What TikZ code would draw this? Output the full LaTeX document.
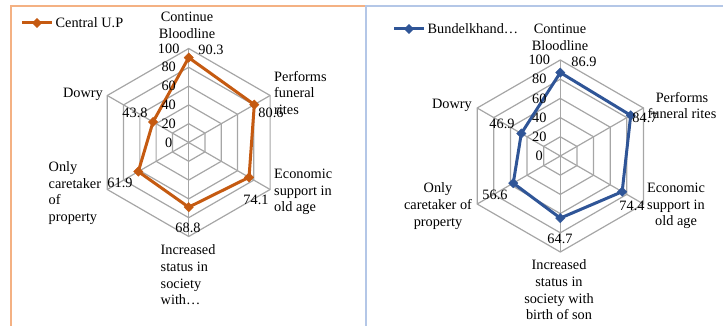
\documentclass[tikz,border=0pt]{standalone}
\usepackage{fontspec}
\setmainfont{Liberation Serif}
\usetikzlibrary{shapes.geometric}
\definecolor{orng}{HTML}{C55A11}
\definecolor{blu}{HTML}{2F5597}
\definecolor{gridc}{HTML}{A6A6A6}
\definecolor{orframe}{HTML}{F4B183}
\definecolor{blframe}{HTML}{B4C7E7}
\tikzset{
  gridline/.style={draw=gridc, line width=1.2pt},
  serline/.style={line width=3pt, line join=round},
  mk/.style={diamond, fill=#1, draw=#1, inner sep=0pt, minimum size=9.5pt},
  lbl/.style={inner sep=0pt, font=\fontsize{14.3}{16.7}\selectfont},
}
\begin{document}
\begin{tikzpicture}[x=1pt,y=-1pt]
\useasboundingbox (0,0) rectangle (723,326);
% frames
\draw[orframe, line width=2pt] (11,326) -- (11,6) -- (366,6);
\draw[blframe, line width=2pt] (366,326) -- (366,6) -- (723,6);

% ================= LEFT CHART =================
\begin{scope}[shift={(188.7,142.5)}]
  \foreach \r in {1,...,5}{
    \draw[gridline] (-90:18.8*\r) \foreach \a in {-30,30,90,150,210}{ -- (\a:18.8*\r) } -- cycle;
  }
  \foreach \a in {-90,-30,30,90,150,210}{
    \draw[gridline] (0,0) -- (\a:94);
  }
  \foreach \v/\i [count=\k from 0] in {90.3/1,80.6/2,74.1/3,68.8/4,61.9/5,43.8/6}{
    \coordinate (l\i) at ({-90+60*\k}:{0.94*\v});
  }
  \draw[orng, serline] (l1) -- (l2) -- (l3) -- (l4) -- (l5) -- (l6) -- cycle;
  \foreach \i in {1,...,6}{ \node[mk=orng] (lm\i) at (l\i) {}; }
  \foreach \t [count=\k from 0] in {0,20,40,60,80,100}{
    \node[lbl] (lt\k) at (-20,-18.8*\k) {\t};
  }
\end{scope}
% axis labels left
\node[lbl, align=center] (lc1) at (187,25.5) {Continue\\Bloodline};
\node[lbl, align=left, anchor=west] (lc2) at (274,93) {Performs\\funeral\\rites};
\node[lbl, align=left, anchor=west] (lc3) at (274,192) {Economic\\support in\\old age};
\node[lbl, align=left, anchor=west] (lc4) at (160.5,275) {Increased\\status in\\society\\with…};
\node[lbl, align=left, anchor=west] (lc5) at (48.5,193) {Only\\caretaker\\of\\property};
\node[lbl, anchor=east] (lc6) at (103,94) {Dowry};
% data labels left
\node[lbl] (ld1) at (211,50) {90.3};
\node[lbl] (ld2) at (271,113) {80.6};
\node[lbl] (ld3) at (256,200) {74.1};
\node[lbl] (ld4) at (188,228) {68.8};
\node[lbl] (ld5) at (120,183) {61.9};
\node[lbl] (ld6) at (135,113) {43.8};
% legend left
\coordinate (lgA) at (22,23);
\coordinate (lgB) at (52,23);
\draw[orng, line width=3pt] (lgA) -- (lgB);
\node[mk=orng] (lgM) at (37,23) {};
\node[lbl, anchor=west] (lgT) at (55.5,23) {Central U.P};

% ================= RIGHT CHART =================
\begin{scope}[shift={(560.3,156)}]
  \foreach \r in {1,...,5}{
    \draw[gridline] (-90:19.2*\r) \foreach \a in {-30,30,90,150,210}{ -- (\a:19.2*\r) } -- cycle;
  }
  \foreach \a in {-90,-30,30,90,150,210}{
    \draw[gridline] (0,0) -- (\a:96);
  }
  \foreach \v/\i [count=\k from 0] in {86.9/1,84.7/2,74.4/3,64.7/4,56.6/5,46.9/6}{
    \coordinate (r\i) at ({-90+60*\k}:{0.96*\v});
  }
  \draw[blu, serline] (r1) -- (r2) -- (r3) -- (r4) -- (r5) -- (r6) -- cycle;
  \foreach \i in {1,...,6}{ \node[mk=blu] (rm\i) at (r\i) {}; }
  \foreach \t [count=\k from 0] in {0,20,40,60,80,100}{
    \node[lbl] (rt\k) at (-21,-19.2*\k) {\t};
  }
\end{scope}
% axis labels right
\node[lbl, align=center] (rc1) at (560,37.5) {Continue\\Bloodline};
\node[lbl, align=center] (rc2) at (682,105.5) {Performs\\funeral rites};
\node[lbl, align=center] (rc3) at (676,206) {Economic\\support in\\old age};
\node[lbl, align=center] (rc4) at (559,290) {Increased\\status in\\society with\\birth of son};
\node[lbl, align=center] (rc5) at (438,206) {Only\\caretaker of\\property};
\node[lbl] (rc6) at (452,105) {Dowry};
% data labels right
\node[lbl] (rd1) at (584,62) {86.9};
\node[lbl] (rd2) at (645,118) {84.7};
\node[lbl] (rd3) at (632,206) {74.4};
\node[lbl] (rd4) at (560,239) {64.7};
\node[lbl] (rd5) at (495,195) {56.6};
\node[lbl] (rd6) at (502,124) {46.9};
% legend right
\coordinate (rgA) at (394,29);
\coordinate (rgB) at (424,29);
\draw[blu, line width=3pt] (rgA) -- (rgB);
\node[mk=blu] (rgM) at (409,29) {};
\node[lbl, anchor=west] (rgT) at (427.5,29) {Bundelkhand…};
\end{tikzpicture}
\end{document}
